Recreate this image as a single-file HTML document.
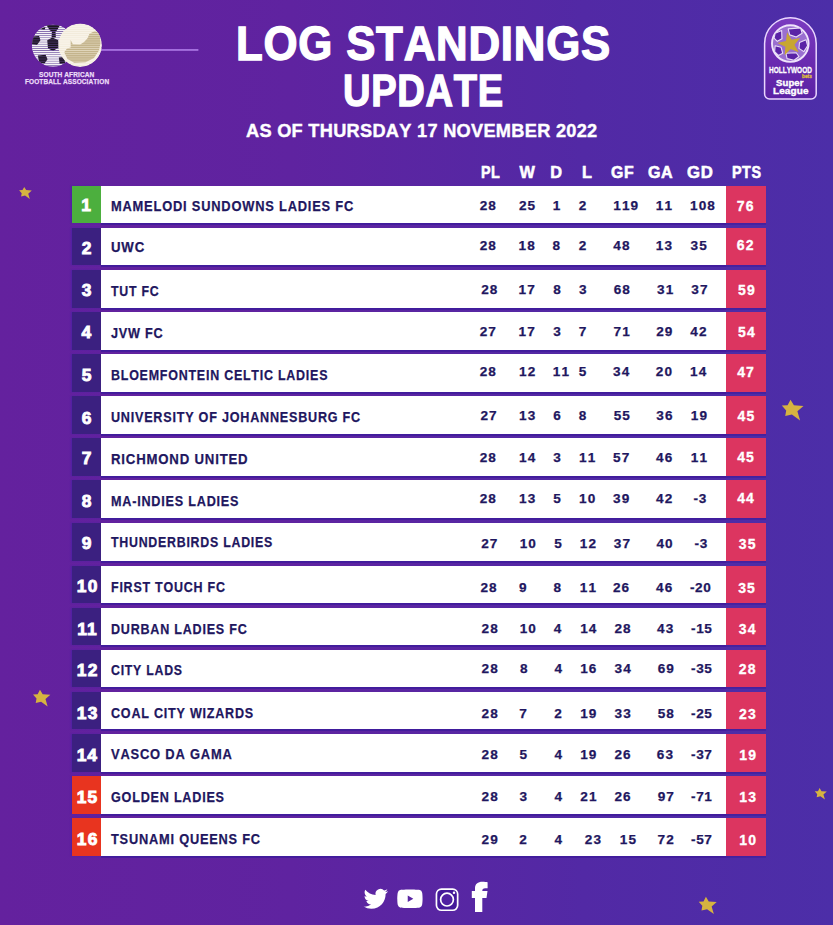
<!DOCTYPE html>
<html><head><meta charset="utf-8"><title>Log Standings Update</title>
<style>
html,body{margin:0;padding:0}
body{width:833px;height:925px;overflow:hidden;position:relative;font-family:"Liberation Sans",sans-serif;font-weight:bold;
background:linear-gradient(90deg,#64219e 0%,#5f23a0 35%,#5229a5 70%,#4c2ea8 100%);}
.x{position:absolute;white-space:nowrap;font-weight:bold;font-kerning:none}
.rk{position:absolute;left:72.4px;width:28.5px;background:#3b2080;box-shadow:-1px 0 1.5px rgba(50,30,170,.45)}
.wh{position:absolute;left:100.9px;width:625.4px;background:#fff;box-shadow:0 1.8px 0 #401c9c}
.pt{position:absolute;left:726.1px;width:39.6px;background:#dc3560;box-shadow:0 1.8px 0 rgba(64,28,156,.7)}
</style></head><body>

<svg class="x" style="left:0;top:0" width="833" height="925" viewBox="0 0 833 925">
<defs>
<pattern id="st" width="4" height="2.12" patternUnits="userSpaceOnUse"><rect width="4" height="0.72" y="1.4" fill="#6a4c9c" fill-opacity="0.85"/></pattern>
<pattern id="st2" width="4" height="2.12" patternUnits="userSpaceOnUse"><rect width="4" height="0.6" y="1.5" fill="#efe6d2" fill-opacity="0.8"/></pattern>
<clipPath id="cball"><circle cx="53" cy="45.6" r="21.2"/></clipPath>
<clipPath id="cmap"><circle cx="80.1" cy="45.2" r="21.8"/></clipPath>
<linearGradient id="bg1" x1="0" y1="0" x2="0" y2="1"><stop offset="0" stop-color="#7a3cc0"/><stop offset="0.55" stop-color="#6a2ab0"/><stop offset="1" stop-color="#5a22a4"/></linearGradient>
</defs>
<polygon points="24.20,186.89 26.19,190.11 31.80,190.58 28.23,193.65 29.81,199.00 25.02,195.61 21.10,196.49 21.68,193.27 19.11,190.28 22.50,190.11" fill="#d6b340"/>
<polygon points="790.50,399.70 793.90,405.20 803.50,406.00 797.40,411.25 800.10,420.40 791.90,414.60 785.20,416.10 786.20,410.60 781.80,405.50 787.60,405.20" fill="#d6b340"/>
<polygon points="39.96,689.82 42.68,694.22 50.36,694.86 45.48,699.06 47.64,706.38 41.08,701.74 35.72,702.94 36.52,698.54 33.00,694.46 37.64,694.22" fill="#d6b340"/>
<polygon points="819.60,788.09 821.49,791.15 826.82,791.59 823.43,794.50 824.93,799.58 820.38,796.36 816.66,797.20 817.21,794.14 814.77,791.31 817.99,791.15" fill="#d6b340"/>
<polygon points="705.91,896.82 708.73,901.38 716.70,902.05 711.63,906.40 713.87,914.00 707.07,909.18 701.51,910.43 702.34,905.86 698.68,901.63 703.50,901.38" fill="#d6b340"/>
<rect x="100" y="49.2" width="98.4" height="1.5" fill="#b583ee"/>
<g clip-path="url(#cball)"><circle cx="53" cy="45.6" r="21.2" fill="#f6f4f7"/><g fill="#1b1420">
<polygon points="46.15,24.86 60.19,24.86 56.95,30.59 55.55,31.13 55.87,37.61 51.55,37.61 51.87,31.13 49.93,30.59" fill="#1b1420"/>
<polygon points="31.78,36.53 39.13,35.99 40.42,40.31 36.96,44.95 31.78,44.31" fill="#1b1420"/>
<polygon points="47.23,40.31 52.31,37.61 58.03,39.98 58.79,47.33 53.17,51.11 47.98,48.41" fill="#1b1420"/>
<polygon points="37.83,55.43 45.61,54.68 47.55,59.22 44.53,63.54 39.13,62.46" fill="#1b1420"/>
<polygon points="58.79,57.59 64.51,57.05 65.05,63.54 59.65,64.08" fill="#1b1420"/>
<polygon points="40.21,28.96 45.61,26.80 44.53,30.04" fill="#1b1420"/>
</g><rect x="30" y="22" width="50" height="48" fill="url(#st)"/></g>
<g clip-path="url(#cmap)"><circle cx="80.1" cy="45.2" r="21.8" fill="#f8f3e8"/>
<polygon points="70.67,39.98 72.83,44.31 80.18,44.52 84.07,41.93 87.53,38.15 89.47,33.83 94.76,30.91 99.63,33.29 100.49,43.01 98.98,50.57 94.01,57.92 85.58,62.24 74.24,62.67 67.43,59.00 64.19,52.19 67.00,48.41 70.67,47.55" fill="#c4b48c"/>
<rect x="56" y="22" width="50" height="48" fill="url(#st2)"/></g>
<path d="M764.6 43.5 a25.8 25.8 0 0 1 51.6 0 V94 a5 5 0 0 1 -5 5 H769.6 a5 5 0 0 1 -5 -5 Z" fill="url(#bg1)" stroke="#ead6ff" stroke-width="1.5"/>
<circle cx="790.3" cy="43.6" r="18.3" fill="#9a6fd0" stroke="#efe4fb" stroke-width="1.9"/>
<polygon points="788.14,28.92 800.57,27.84 802.19,33.24 796.24,37.03 789.76,34.86" fill="#5a23a6" stroke="#e9ddf7" stroke-width="1.1" stroke-linejoin="round"/>
<polygon points="775.16,33.24 781.65,30.54 781.97,38.65 777.32,41.35 774.08,38.11" fill="#5a23a6" stroke="#e9ddf7" stroke-width="1.1" stroke-linejoin="round"/>
<polygon points="799.49,42.43 805.97,39.73 807.59,45.68 803.81,51.62 798.95,48.38" fill="#5a23a6" stroke="#e9ddf7" stroke-width="1.1" stroke-linejoin="round"/>
<polygon points="775.16,45.68 781.11,47.30 782.73,53.24 778.41,55.41 774.62,51.62" fill="#5a23a6" stroke="#e9ddf7" stroke-width="1.1" stroke-linejoin="round"/>
<polygon points="785.97,53.24 796.24,52.70 798.95,56.49 794.08,60.27 787.05,58.65" fill="#5a23a6" stroke="#e9ddf7" stroke-width="1.1" stroke-linejoin="round"/>
<polygon points="787.06,32.27 791.58,39.74 800.17,38.10 794.45,44.71 798.67,52.36 790.61,48.97 784.64,55.35 785.37,46.64 777.47,42.92 785.97,40.93" fill="#c8a632"/>
<g fill="#fff">
<path transform="translate(363.6,886.6) scale(1.02,1.023)" d="M23.953 4.57a10 10 0 01-2.825.775 4.958 4.958 0 002.163-2.723c-.951.555-2.005.959-3.127 1.184a4.92 4.92 0 00-8.384 4.482C7.69 8.095 4.067 6.13 1.64 3.162a4.822 4.822 0 00-.666 2.475c0 1.71.87 3.213 2.188 4.096a4.904 4.904 0 01-2.228-.616v.06a4.923 4.923 0 003.946 4.827 4.996 4.996 0 01-2.212.085 4.936 4.936 0 004.604 3.417 9.867 9.867 0 01-6.102 2.105c-.39 0-.779-.023-1.17-.067a13.995 13.995 0 007.557 2.209c9.053 0 13.998-7.496 13.998-13.985 0-.21 0-.42-.015-.63A9.935 9.935 0 0024 4.59z"/>
<path transform="translate(397.3,885.62) scale(1.054,1.094)" d="M23.498 6.186a3.016 3.016 0 0 0-2.122-2.136C19.505 3.545 12 3.545 12 3.545s-7.505 0-9.377.505A3.017 3.017 0 0 0 .502 6.186C0 8.07 0 12 0 12s0 3.93.502 5.814a3.016 3.016 0 0 0 2.122 2.136c1.871.505 9.376.505 9.376.505s7.505 0 9.377-.505a3.015 3.015 0 0 0 2.122-2.136C24 15.93 24 12 24 12s0-3.93-.502-5.814zM9.9 14.9V9.1L15.2 12z" fill-rule="evenodd"/>
</g>
<g stroke="#fff" stroke-width="1.7"><rect x="436.45" y="889.05" width="21.2" height="21.2" rx="5" fill="#44199a"/><circle cx="447" cy="899.6" r="6.4" fill="#5021a2"/></g><circle cx="454" cy="892.7" r="1.25" fill="#fff"/>
<path fill="#fff" d="M475 912 V898.1 H471.8 V890.9 H475 V888.3 C475 884 477.8 881.8 482.4 881.8 C484.4 881.8 486.4 882 487.6 882.25 V888.3 H485.2 C483.1 888.3 482.3 889.1 482.3 890.9 H487.5 L486.5 898.1 H482.3 V912 Z"/>
</svg>
<div class="x" style="left:236.42px;top:20.00px;font-size:47.2px;line-height:47.2px;letter-spacing:0.800px;color:#fff;-webkit-text-stroke:1.3px #fff;transform:scaleX(0.9290);transform-origin:0 0;">LOG STANDINGS</div>
<div class="x" style="left:343.16px;top:69.00px;font-size:44.6px;line-height:44.6px;letter-spacing:0.800px;color:#fff;-webkit-text-stroke:1.3px #fff;transform:scaleX(0.8544);transform-origin:0 0;">UPDATE</div>
<div class="x" style="left:246.15px;top:122.00px;font-size:18.9px;line-height:18.9px;letter-spacing:0.300px;color:#fff;-webkit-text-stroke:0.4px #fff;transform:scaleX(0.9626);transform-origin:0 0;">AS OF THURSDAY 17 NOVEMBER 2022</div>
<div class="x" style="left:39.14px;top:72.00px;font-size:6.9px;line-height:6.9px;letter-spacing:0.100px;color:#ecdcf8;-webkit-text-stroke:0.25px #ecdcf8;transform:scaleX(0.9497);transform-origin:0 0;">SOUTH AFRICAN</div>
<div class="x" style="left:24.69px;top:79.00px;font-size:6.9px;line-height:6.9px;letter-spacing:0.100px;color:#ecdcf8;-webkit-text-stroke:0.25px #ecdcf8;transform:scaleX(0.9432);transform-origin:0 0;">FOOTBALL ASSOCIATION</div>
<div class="x" style="left:769.02px;top:65.00px;font-size:9.6px;line-height:9.6px;letter-spacing:0.000px;color:#fff;-webkit-text-stroke:0.3px #fff;transform:scaleX(0.6761);transform-origin:0 0;">HOLLYWOOD</div>
<div class="x" style="left:802.04px;top:75.00px;font-size:4.6px;line-height:4.6px;letter-spacing:0.000px;color:#d9b740;-webkit-text-stroke:0.3px #d9b740;transform:scaleX(1.0372);transform-origin:0 0;">bets</div>
<div class="x" style="left:776.20px;top:79.00px;font-size:8.7px;line-height:8.7px;letter-spacing:0.100px;color:#fff;-webkit-text-stroke:0.35px #fff;transform:scaleX(1.0963);transform-origin:0 0;">Super</div>
<div class="x" style="left:772.61px;top:87.00px;font-size:8.7px;line-height:8.7px;letter-spacing:0.100px;color:#fff;-webkit-text-stroke:0.35px #fff;transform:scaleX(1.1486);transform-origin:0 0;">League</div>
<div class="x" style="left:480.82px;top:164.00px;font-size:16.3px;line-height:16.3px;letter-spacing:0.600px;color:#fff;-webkit-text-stroke:0.55px #fff;transform:scaleX(0.8797);transform-origin:0 0;">PL</div>
<div class="x" style="left:519.56px;top:164.00px;font-size:16.3px;line-height:16.3px;letter-spacing:0.600px;color:#fff;-webkit-text-stroke:0.55px #fff;">W</div>
<div class="x" style="left:550.18px;top:164.00px;font-size:16.3px;line-height:16.3px;letter-spacing:0.600px;color:#fff;-webkit-text-stroke:0.55px #fff;">D</div>
<div class="x" style="left:581.88px;top:164.00px;font-size:16.3px;line-height:16.3px;letter-spacing:0.600px;color:#fff;-webkit-text-stroke:0.55px #fff;">L</div>
<div class="x" style="left:610.83px;top:164.00px;font-size:16.3px;line-height:16.3px;letter-spacing:0.600px;color:#fff;-webkit-text-stroke:0.55px #fff;transform:scaleX(0.9718);transform-origin:0 0;">GF</div>
<div class="x" style="left:647.81px;top:164.00px;font-size:16.3px;line-height:16.3px;letter-spacing:0.600px;color:#fff;-webkit-text-stroke:0.55px #fff;transform:scaleX(0.9874);transform-origin:0 0;">GA</div>
<div class="x" style="left:686.69px;top:164.00px;font-size:16.3px;line-height:16.3px;letter-spacing:0.600px;color:#fff;-webkit-text-stroke:0.55px #fff;transform:scaleX(1.0276);transform-origin:0 0;">GD</div>
<div class="x" style="left:731.51px;top:164.00px;font-size:16.3px;line-height:16.3px;letter-spacing:0.600px;color:#fff;-webkit-text-stroke:0.55px #fff;transform:scaleX(0.8806);transform-origin:0 0;">PTS</div>
<div class="rk" style="top:185.90px;height:37.3px;background:#4caf3e"></div>
<div class="wh" style="top:185.90px;height:37.3px"></div>
<div class="pt" style="top:185.90px;height:37.3px"></div>
<div class="x" style="left:81.36px;top:197.00px;font-size:17.4px;line-height:17.4px;letter-spacing:0.000px;color:#fff;-webkit-text-stroke:0.9px #fff;">1</div>
<div class="x" style="left:110.66px;top:199.00px;font-size:14.6px;line-height:14.6px;letter-spacing:0.900px;color:#1f1760;-webkit-text-stroke:0.25px #1f1760;transform:scaleX(0.8818);transform-origin:0 0;">MAMELODI SUNDOWNS LADIES FC</div>
<div class="x" style="left:479.65px;top:199.00px;font-size:13.6px;line-height:13.6px;letter-spacing:1.100px;color:#1f1760;-webkit-text-stroke:0.25px #1f1760;">28</div>
<div class="x" style="left:518.95px;top:199.00px;font-size:13.6px;line-height:13.6px;letter-spacing:1.100px;color:#1f1760;-webkit-text-stroke:0.25px #1f1760;">25</div>
<div class="x" style="left:552.77px;top:199.00px;font-size:13.6px;line-height:13.6px;letter-spacing:1.100px;color:#1f1760;-webkit-text-stroke:0.25px #1f1760;">1</div>
<div class="x" style="left:578.75px;top:199.00px;font-size:13.6px;line-height:13.6px;letter-spacing:1.100px;color:#1f1760;-webkit-text-stroke:0.25px #1f1760;">2</div>
<div class="x" style="left:613.27px;top:199.00px;font-size:13.6px;line-height:13.6px;letter-spacing:1.100px;color:#1f1760;-webkit-text-stroke:0.25px #1f1760;">119</div>
<div class="x" style="left:655.77px;top:199.00px;font-size:13.6px;line-height:13.6px;letter-spacing:1.100px;color:#1f1760;-webkit-text-stroke:0.25px #1f1760;">11</div>
<div class="x" style="left:689.97px;top:199.00px;font-size:13.6px;line-height:13.6px;letter-spacing:1.100px;color:#1f1760;-webkit-text-stroke:0.25px #1f1760;">108</div>
<div class="x" style="left:736.75px;top:199.00px;font-size:14.0px;line-height:14.0px;letter-spacing:1.200px;color:#fff;-webkit-text-stroke:0.3px #fff;">76</div>
<div class="rk" style="top:227.60px;height:37.8px;background:#3b2080"></div>
<div class="wh" style="top:227.60px;height:37.8px"></div>
<div class="pt" style="top:227.60px;height:37.8px"></div>
<div class="x" style="left:81.71px;top:240.00px;font-size:17.4px;line-height:17.4px;letter-spacing:0.000px;color:#fff;-webkit-text-stroke:0.9px #fff;">2</div>
<div class="x" style="left:110.73px;top:240.00px;font-size:14.6px;line-height:14.6px;letter-spacing:0.900px;color:#1f1760;-webkit-text-stroke:0.25px #1f1760;transform:scaleX(0.9056);transform-origin:0 0;">UWC</div>
<div class="x" style="left:479.65px;top:239.00px;font-size:13.6px;line-height:13.6px;letter-spacing:1.100px;color:#1f1760;-webkit-text-stroke:0.25px #1f1760;">28</div>
<div class="x" style="left:518.57px;top:239.00px;font-size:13.6px;line-height:13.6px;letter-spacing:1.100px;color:#1f1760;-webkit-text-stroke:0.25px #1f1760;">18</div>
<div class="x" style="left:552.49px;top:239.00px;font-size:13.6px;line-height:13.6px;letter-spacing:1.100px;color:#1f1760;-webkit-text-stroke:0.25px #1f1760;">8</div>
<div class="x" style="left:578.75px;top:239.00px;font-size:13.6px;line-height:13.6px;letter-spacing:1.100px;color:#1f1760;-webkit-text-stroke:0.25px #1f1760;">2</div>
<div class="x" style="left:613.22px;top:239.00px;font-size:13.6px;line-height:13.6px;letter-spacing:1.100px;color:#1f1760;-webkit-text-stroke:0.25px #1f1760;">48</div>
<div class="x" style="left:655.77px;top:239.00px;font-size:13.6px;line-height:13.6px;letter-spacing:1.100px;color:#1f1760;-webkit-text-stroke:0.25px #1f1760;">13</div>
<div class="x" style="left:690.51px;top:239.00px;font-size:13.6px;line-height:13.6px;letter-spacing:1.100px;color:#1f1760;-webkit-text-stroke:0.25px #1f1760;">35</div>
<div class="x" style="left:736.84px;top:238.00px;font-size:14.0px;line-height:14.0px;letter-spacing:1.200px;color:#fff;-webkit-text-stroke:0.3px #fff;">62</div>
<div class="rk" style="top:269.70px;height:37.9px;background:#3b2080"></div>
<div class="wh" style="top:269.70px;height:37.9px"></div>
<div class="pt" style="top:269.70px;height:37.9px"></div>
<div class="x" style="left:81.78px;top:282.00px;font-size:17.4px;line-height:17.4px;letter-spacing:0.000px;color:#fff;-webkit-text-stroke:0.9px #fff;">3</div>
<div class="x" style="left:111.39px;top:284.00px;font-size:14.6px;line-height:14.6px;letter-spacing:0.900px;color:#1f1760;-webkit-text-stroke:0.25px #1f1760;transform:scaleX(0.8444);transform-origin:0 0;">TUT FC</div>
<div class="x" style="left:481.15px;top:283.00px;font-size:13.6px;line-height:13.6px;letter-spacing:1.100px;color:#1f1760;-webkit-text-stroke:0.25px #1f1760;">28</div>
<div class="x" style="left:518.57px;top:283.00px;font-size:13.6px;line-height:13.6px;letter-spacing:1.100px;color:#1f1760;-webkit-text-stroke:0.25px #1f1760;">17</div>
<div class="x" style="left:553.19px;top:283.00px;font-size:13.6px;line-height:13.6px;letter-spacing:1.100px;color:#1f1760;-webkit-text-stroke:0.25px #1f1760;">8</div>
<div class="x" style="left:578.91px;top:283.00px;font-size:13.6px;line-height:13.6px;letter-spacing:1.100px;color:#1f1760;-webkit-text-stroke:0.25px #1f1760;">3</div>
<div class="x" style="left:613.63px;top:283.00px;font-size:13.6px;line-height:13.6px;letter-spacing:1.100px;color:#1f1760;-webkit-text-stroke:0.25px #1f1760;">68</div>
<div class="x" style="left:657.01px;top:283.00px;font-size:13.6px;line-height:13.6px;letter-spacing:1.100px;color:#1f1760;-webkit-text-stroke:0.25px #1f1760;">31</div>
<div class="x" style="left:691.31px;top:283.00px;font-size:13.6px;line-height:13.6px;letter-spacing:1.100px;color:#1f1760;-webkit-text-stroke:0.25px #1f1760;">37</div>
<div class="x" style="left:738.02px;top:283.00px;font-size:14.0px;line-height:14.0px;letter-spacing:1.200px;color:#fff;-webkit-text-stroke:0.3px #fff;">59</div>
<div class="rk" style="top:311.70px;height:38.0px;background:#3b2080"></div>
<div class="wh" style="top:311.70px;height:38.0px"></div>
<div class="pt" style="top:311.70px;height:38.0px"></div>
<div class="x" style="left:81.58px;top:324.00px;font-size:17.4px;line-height:17.4px;letter-spacing:0.000px;color:#fff;-webkit-text-stroke:0.9px #fff;">4</div>
<div class="x" style="left:111.33px;top:326.00px;font-size:14.6px;line-height:14.6px;letter-spacing:0.900px;color:#1f1760;-webkit-text-stroke:0.25px #1f1760;transform:scaleX(0.8681);transform-origin:0 0;">JVW FC</div>
<div class="x" style="left:479.65px;top:325.00px;font-size:13.6px;line-height:13.6px;letter-spacing:1.100px;color:#1f1760;-webkit-text-stroke:0.25px #1f1760;">27</div>
<div class="x" style="left:518.57px;top:325.00px;font-size:13.6px;line-height:13.6px;letter-spacing:1.100px;color:#1f1760;-webkit-text-stroke:0.25px #1f1760;">17</div>
<div class="x" style="left:553.31px;top:325.00px;font-size:13.6px;line-height:13.6px;letter-spacing:1.100px;color:#1f1760;-webkit-text-stroke:0.25px #1f1760;">3</div>
<div class="x" style="left:578.64px;top:325.00px;font-size:13.6px;line-height:13.6px;letter-spacing:1.100px;color:#1f1760;-webkit-text-stroke:0.25px #1f1760;">7</div>
<div class="x" style="left:613.54px;top:325.00px;font-size:13.6px;line-height:13.6px;letter-spacing:1.100px;color:#1f1760;-webkit-text-stroke:0.25px #1f1760;">71</div>
<div class="x" style="left:656.15px;top:325.00px;font-size:13.6px;line-height:13.6px;letter-spacing:1.100px;color:#1f1760;-webkit-text-stroke:0.25px #1f1760;">29</div>
<div class="x" style="left:690.32px;top:325.00px;font-size:13.6px;line-height:13.6px;letter-spacing:1.100px;color:#1f1760;-webkit-text-stroke:0.25px #1f1760;">42</div>
<div class="x" style="left:738.02px;top:325.00px;font-size:14.0px;line-height:14.0px;letter-spacing:1.200px;color:#fff;-webkit-text-stroke:0.3px #fff;">54</div>
<div class="rk" style="top:353.70px;height:38.2px;background:#3b2080"></div>
<div class="wh" style="top:353.70px;height:38.2px"></div>
<div class="pt" style="top:353.70px;height:38.2px"></div>
<div class="x" style="left:81.64px;top:367.00px;font-size:17.4px;line-height:17.4px;letter-spacing:0.000px;color:#fff;-webkit-text-stroke:0.9px #fff;">5</div>
<div class="x" style="left:110.69px;top:368.00px;font-size:14.6px;line-height:14.6px;letter-spacing:0.900px;color:#1f1760;-webkit-text-stroke:0.25px #1f1760;transform:scaleX(0.8538);transform-origin:0 0;">BLOEMFONTEIN CELTIC LADIES</div>
<div class="x" style="left:479.65px;top:365.00px;font-size:13.6px;line-height:13.6px;letter-spacing:1.100px;color:#1f1760;-webkit-text-stroke:0.25px #1f1760;">28</div>
<div class="x" style="left:518.97px;top:365.00px;font-size:13.6px;line-height:13.6px;letter-spacing:1.100px;color:#1f1760;-webkit-text-stroke:0.25px #1f1760;">12</div>
<div class="x" style="left:552.77px;top:365.00px;font-size:13.6px;line-height:13.6px;letter-spacing:1.100px;color:#1f1760;-webkit-text-stroke:0.25px #1f1760;">11</div>
<div class="x" style="left:578.81px;top:365.00px;font-size:13.6px;line-height:13.6px;letter-spacing:1.100px;color:#1f1760;-webkit-text-stroke:0.25px #1f1760;">5</div>
<div class="x" style="left:613.11px;top:365.00px;font-size:13.6px;line-height:13.6px;letter-spacing:1.100px;color:#1f1760;-webkit-text-stroke:0.25px #1f1760;">34</div>
<div class="x" style="left:655.85px;top:365.00px;font-size:13.6px;line-height:13.6px;letter-spacing:1.100px;color:#1f1760;-webkit-text-stroke:0.25px #1f1760;">20</div>
<div class="x" style="left:689.97px;top:365.00px;font-size:13.6px;line-height:13.6px;letter-spacing:1.100px;color:#1f1760;-webkit-text-stroke:0.25px #1f1760;">14</div>
<div class="x" style="left:737.14px;top:365.00px;font-size:14.0px;line-height:14.0px;letter-spacing:1.200px;color:#fff;-webkit-text-stroke:0.3px #fff;">47</div>
<div class="rk" style="top:396.00px;height:38.0px;background:#3b2080"></div>
<div class="wh" style="top:396.00px;height:38.0px"></div>
<div class="pt" style="top:396.00px;height:38.0px"></div>
<div class="x" style="left:81.66px;top:410.00px;font-size:17.4px;line-height:17.4px;letter-spacing:0.000px;color:#fff;-webkit-text-stroke:0.9px #fff;">6</div>
<div class="x" style="left:110.77px;top:410.00px;font-size:14.6px;line-height:14.6px;letter-spacing:0.900px;color:#1f1760;-webkit-text-stroke:0.25px #1f1760;transform:scaleX(0.8630);transform-origin:0 0;">UNIVERSITY OF JOHANNESBURG FC</div>
<div class="x" style="left:480.45px;top:409.00px;font-size:13.6px;line-height:13.6px;letter-spacing:1.100px;color:#1f1760;-webkit-text-stroke:0.25px #1f1760;">27</div>
<div class="x" style="left:518.97px;top:409.00px;font-size:13.6px;line-height:13.6px;letter-spacing:1.100px;color:#1f1760;-webkit-text-stroke:0.25px #1f1760;">13</div>
<div class="x" style="left:553.13px;top:409.00px;font-size:13.6px;line-height:13.6px;letter-spacing:1.100px;color:#1f1760;-webkit-text-stroke:0.25px #1f1760;">6</div>
<div class="x" style="left:578.79px;top:409.00px;font-size:13.6px;line-height:13.6px;letter-spacing:1.100px;color:#1f1760;-webkit-text-stroke:0.25px #1f1760;">8</div>
<div class="x" style="left:613.71px;top:409.00px;font-size:13.6px;line-height:13.6px;letter-spacing:1.100px;color:#1f1760;-webkit-text-stroke:0.25px #1f1760;">55</div>
<div class="x" style="left:656.31px;top:409.00px;font-size:13.6px;line-height:13.6px;letter-spacing:1.100px;color:#1f1760;-webkit-text-stroke:0.25px #1f1760;">36</div>
<div class="x" style="left:690.77px;top:409.00px;font-size:13.6px;line-height:13.6px;letter-spacing:1.100px;color:#1f1760;-webkit-text-stroke:0.25px #1f1760;">19</div>
<div class="x" style="left:737.54px;top:409.00px;font-size:14.0px;line-height:14.0px;letter-spacing:1.200px;color:#fff;-webkit-text-stroke:0.3px #fff;">45</div>
<div class="rk" style="top:438.20px;height:37.6px;background:#3b2080"></div>
<div class="wh" style="top:438.20px;height:37.6px"></div>
<div class="pt" style="top:438.20px;height:37.6px"></div>
<div class="x" style="left:81.67px;top:450.00px;font-size:17.4px;line-height:17.4px;letter-spacing:0.000px;color:#fff;-webkit-text-stroke:0.9px #fff;">7</div>
<div class="x" style="left:110.64px;top:452.00px;font-size:14.6px;line-height:14.6px;letter-spacing:0.900px;color:#1f1760;-webkit-text-stroke:0.25px #1f1760;transform:scaleX(0.9035);transform-origin:0 0;">RICHMOND UNITED</div>
<div class="x" style="left:479.65px;top:451.00px;font-size:13.6px;line-height:13.6px;letter-spacing:1.100px;color:#1f1760;-webkit-text-stroke:0.25px #1f1760;">28</div>
<div class="x" style="left:518.97px;top:451.00px;font-size:13.6px;line-height:13.6px;letter-spacing:1.100px;color:#1f1760;-webkit-text-stroke:0.25px #1f1760;">14</div>
<div class="x" style="left:553.31px;top:451.00px;font-size:13.6px;line-height:13.6px;letter-spacing:1.100px;color:#1f1760;-webkit-text-stroke:0.25px #1f1760;">3</div>
<div class="x" style="left:579.07px;top:451.00px;font-size:13.6px;line-height:13.6px;letter-spacing:1.100px;color:#1f1760;-webkit-text-stroke:0.25px #1f1760;">11</div>
<div class="x" style="left:613.01px;top:451.00px;font-size:13.6px;line-height:13.6px;letter-spacing:1.100px;color:#1f1760;-webkit-text-stroke:0.25px #1f1760;">57</div>
<div class="x" style="left:656.12px;top:451.00px;font-size:13.6px;line-height:13.6px;letter-spacing:1.100px;color:#1f1760;-webkit-text-stroke:0.25px #1f1760;">46</div>
<div class="x" style="left:690.77px;top:451.00px;font-size:13.6px;line-height:13.6px;letter-spacing:1.100px;color:#1f1760;-webkit-text-stroke:0.25px #1f1760;">11</div>
<div class="x" style="left:737.14px;top:450.00px;font-size:14.0px;line-height:14.0px;letter-spacing:1.200px;color:#fff;-webkit-text-stroke:0.3px #fff;">45</div>
<div class="rk" style="top:480.10px;height:38.2px;background:#3b2080"></div>
<div class="wh" style="top:480.10px;height:38.2px"></div>
<div class="pt" style="top:480.10px;height:38.2px"></div>
<div class="x" style="left:81.65px;top:493.00px;font-size:17.4px;line-height:17.4px;letter-spacing:0.000px;color:#fff;-webkit-text-stroke:0.9px #fff;">8</div>
<div class="x" style="left:110.68px;top:494.00px;font-size:14.6px;line-height:14.6px;letter-spacing:0.900px;color:#1f1760;-webkit-text-stroke:0.25px #1f1760;transform:scaleX(0.8653);transform-origin:0 0;">MA-INDIES LADIES</div>
<div class="x" style="left:479.65px;top:492.00px;font-size:13.6px;line-height:13.6px;letter-spacing:1.100px;color:#1f1760;-webkit-text-stroke:0.25px #1f1760;">28</div>
<div class="x" style="left:518.97px;top:492.00px;font-size:13.6px;line-height:13.6px;letter-spacing:1.100px;color:#1f1760;-webkit-text-stroke:0.25px #1f1760;">13</div>
<div class="x" style="left:553.21px;top:492.00px;font-size:13.6px;line-height:13.6px;letter-spacing:1.100px;color:#1f1760;-webkit-text-stroke:0.25px #1f1760;">5</div>
<div class="x" style="left:579.07px;top:492.00px;font-size:13.6px;line-height:13.6px;letter-spacing:1.100px;color:#1f1760;-webkit-text-stroke:0.25px #1f1760;">10</div>
<div class="x" style="left:613.11px;top:492.00px;font-size:13.6px;line-height:13.6px;letter-spacing:1.100px;color:#1f1760;-webkit-text-stroke:0.25px #1f1760;">39</div>
<div class="x" style="left:656.12px;top:492.00px;font-size:13.6px;line-height:13.6px;letter-spacing:1.100px;color:#1f1760;-webkit-text-stroke:0.25px #1f1760;">42</div>
<div class="x" style="left:693.59px;top:492.00px;font-size:13.6px;line-height:13.6px;letter-spacing:0.600px;color:#1f1760;-webkit-text-stroke:0.25px #1f1760;">-3</div>
<div class="x" style="left:737.14px;top:491.00px;font-size:14.0px;line-height:14.0px;letter-spacing:1.200px;color:#fff;-webkit-text-stroke:0.3px #fff;">44</div>
<div class="rk" style="top:523.20px;height:37.6px;background:#3b2080"></div>
<div class="wh" style="top:523.20px;height:37.6px"></div>
<div class="pt" style="top:523.20px;height:37.6px"></div>
<div class="x" style="left:81.68px;top:535.00px;font-size:17.4px;line-height:17.4px;letter-spacing:0.000px;color:#fff;-webkit-text-stroke:0.9px #fff;">9</div>
<div class="x" style="left:111.39px;top:535.00px;font-size:14.6px;line-height:14.6px;letter-spacing:0.900px;color:#1f1760;-webkit-text-stroke:0.25px #1f1760;transform:scaleX(0.8467);transform-origin:0 0;">THUNDERBIRDS LADIES</div>
<div class="x" style="left:481.15px;top:537.00px;font-size:13.6px;line-height:13.6px;letter-spacing:1.100px;color:#1f1760;-webkit-text-stroke:0.25px #1f1760;">27</div>
<div class="x" style="left:519.67px;top:537.00px;font-size:13.6px;line-height:13.6px;letter-spacing:1.100px;color:#1f1760;-webkit-text-stroke:0.25px #1f1760;">10</div>
<div class="x" style="left:554.31px;top:537.00px;font-size:13.6px;line-height:13.6px;letter-spacing:1.100px;color:#1f1760;-webkit-text-stroke:0.25px #1f1760;">5</div>
<div class="x" style="left:579.87px;top:537.00px;font-size:13.6px;line-height:13.6px;letter-spacing:1.100px;color:#1f1760;-webkit-text-stroke:0.25px #1f1760;">12</div>
<div class="x" style="left:613.81px;top:537.00px;font-size:13.6px;line-height:13.6px;letter-spacing:1.100px;color:#1f1760;-webkit-text-stroke:0.25px #1f1760;">37</div>
<div class="x" style="left:656.42px;top:537.00px;font-size:13.6px;line-height:13.6px;letter-spacing:1.100px;color:#1f1760;-webkit-text-stroke:0.25px #1f1760;">40</div>
<div class="x" style="left:694.59px;top:537.00px;font-size:13.6px;line-height:13.6px;letter-spacing:0.600px;color:#1f1760;-webkit-text-stroke:0.25px #1f1760;">-3</div>
<div class="x" style="left:738.83px;top:537.00px;font-size:14.0px;line-height:14.0px;letter-spacing:1.200px;color:#fff;-webkit-text-stroke:0.3px #fff;">35</div>
<div class="rk" style="top:565.70px;height:37.6px;background:#3b2080"></div>
<div class="wh" style="top:565.70px;height:37.6px"></div>
<div class="pt" style="top:565.70px;height:37.6px"></div>
<div class="x" style="left:76.85px;top:578.00px;font-size:17.4px;line-height:17.4px;letter-spacing:1.256px;color:#fff;-webkit-text-stroke:0.9px #fff;">10</div>
<div class="x" style="left:110.69px;top:580.00px;font-size:14.6px;line-height:14.6px;letter-spacing:0.900px;color:#1f1760;-webkit-text-stroke:0.25px #1f1760;transform:scaleX(0.8543);transform-origin:0 0;">FIRST TOUCH FC</div>
<div class="x" style="left:480.45px;top:581.00px;font-size:13.6px;line-height:13.6px;letter-spacing:1.100px;color:#1f1760;-webkit-text-stroke:0.25px #1f1760;">28</div>
<div class="x" style="left:518.95px;top:581.00px;font-size:13.6px;line-height:13.6px;letter-spacing:1.100px;color:#1f1760;-webkit-text-stroke:0.25px #1f1760;">9</div>
<div class="x" style="left:553.59px;top:581.00px;font-size:13.6px;line-height:13.6px;letter-spacing:1.100px;color:#1f1760;-webkit-text-stroke:0.25px #1f1760;">8</div>
<div class="x" style="left:579.87px;top:581.00px;font-size:13.6px;line-height:13.6px;letter-spacing:1.100px;color:#1f1760;-webkit-text-stroke:0.25px #1f1760;">11</div>
<div class="x" style="left:612.95px;top:581.00px;font-size:13.6px;line-height:13.6px;letter-spacing:1.100px;color:#1f1760;-webkit-text-stroke:0.25px #1f1760;">26</div>
<div class="x" style="left:656.12px;top:581.00px;font-size:13.6px;line-height:13.6px;letter-spacing:1.100px;color:#1f1760;-webkit-text-stroke:0.25px #1f1760;">46</div>
<div class="x" style="left:689.99px;top:581.00px;font-size:13.6px;line-height:13.6px;letter-spacing:0.600px;color:#1f1760;-webkit-text-stroke:0.25px #1f1760;">-20</div>
<div class="x" style="left:738.13px;top:581.00px;font-size:14.0px;line-height:14.0px;letter-spacing:1.200px;color:#fff;-webkit-text-stroke:0.3px #fff;">35</div>
<div class="rk" style="top:607.90px;height:37.2px;background:#3b2080"></div>
<div class="wh" style="top:607.90px;height:37.2px"></div>
<div class="pt" style="top:607.90px;height:37.2px"></div>
<div class="x" style="left:77.15px;top:621.00px;font-size:17.4px;line-height:17.4px;letter-spacing:0.126px;color:#fff;-webkit-text-stroke:0.9px #fff;">11</div>
<div class="x" style="left:110.69px;top:622.00px;font-size:14.6px;line-height:14.6px;letter-spacing:0.900px;color:#1f1760;-webkit-text-stroke:0.25px #1f1760;transform:scaleX(0.8598);transform-origin:0 0;">DURBAN LADIES FC</div>
<div class="x" style="left:481.55px;top:622.00px;font-size:13.6px;line-height:13.6px;letter-spacing:1.100px;color:#1f1760;-webkit-text-stroke:0.25px #1f1760;">28</div>
<div class="x" style="left:519.67px;top:622.00px;font-size:13.6px;line-height:13.6px;letter-spacing:1.100px;color:#1f1760;-webkit-text-stroke:0.25px #1f1760;">10</div>
<div class="x" style="left:553.82px;top:622.00px;font-size:13.6px;line-height:13.6px;letter-spacing:1.100px;color:#1f1760;-webkit-text-stroke:0.25px #1f1760;">4</div>
<div class="x" style="left:580.17px;top:622.00px;font-size:13.6px;line-height:13.6px;letter-spacing:1.100px;color:#1f1760;-webkit-text-stroke:0.25px #1f1760;">14</div>
<div class="x" style="left:614.45px;top:622.00px;font-size:13.6px;line-height:13.6px;letter-spacing:1.100px;color:#1f1760;-webkit-text-stroke:0.25px #1f1760;">28</div>
<div class="x" style="left:657.12px;top:622.00px;font-size:13.6px;line-height:13.6px;letter-spacing:1.100px;color:#1f1760;-webkit-text-stroke:0.25px #1f1760;">43</div>
<div class="x" style="left:691.09px;top:622.00px;font-size:13.6px;line-height:13.6px;letter-spacing:0.600px;color:#1f1760;-webkit-text-stroke:0.25px #1f1760;">-15</div>
<div class="x" style="left:738.83px;top:622.00px;font-size:14.0px;line-height:14.0px;letter-spacing:1.200px;color:#fff;-webkit-text-stroke:0.3px #fff;">34</div>
<div class="rk" style="top:649.90px;height:37.6px;background:#3b2080"></div>
<div class="wh" style="top:649.90px;height:37.6px"></div>
<div class="pt" style="top:649.90px;height:37.6px"></div>
<div class="x" style="left:76.85px;top:662.00px;font-size:17.4px;line-height:17.4px;letter-spacing:1.239px;color:#fff;-webkit-text-stroke:0.9px #fff;">12</div>
<div class="x" style="left:111.02px;top:663.00px;font-size:14.6px;line-height:14.6px;letter-spacing:0.900px;color:#1f1760;-webkit-text-stroke:0.25px #1f1760;transform:scaleX(0.8431);transform-origin:0 0;">CITY LADS</div>
<div class="x" style="left:481.55px;top:662.00px;font-size:13.6px;line-height:13.6px;letter-spacing:1.100px;color:#1f1760;-webkit-text-stroke:0.25px #1f1760;">28</div>
<div class="x" style="left:520.09px;top:662.00px;font-size:13.6px;line-height:13.6px;letter-spacing:1.100px;color:#1f1760;-webkit-text-stroke:0.25px #1f1760;">8</div>
<div class="x" style="left:554.52px;top:662.00px;font-size:13.6px;line-height:13.6px;letter-spacing:1.100px;color:#1f1760;-webkit-text-stroke:0.25px #1f1760;">4</div>
<div class="x" style="left:580.17px;top:662.00px;font-size:13.6px;line-height:13.6px;letter-spacing:1.100px;color:#1f1760;-webkit-text-stroke:0.25px #1f1760;">16</div>
<div class="x" style="left:614.61px;top:662.00px;font-size:13.6px;line-height:13.6px;letter-spacing:1.100px;color:#1f1760;-webkit-text-stroke:0.25px #1f1760;">34</div>
<div class="x" style="left:657.63px;top:662.00px;font-size:13.6px;line-height:13.6px;letter-spacing:1.100px;color:#1f1760;-webkit-text-stroke:0.25px #1f1760;">69</div>
<div class="x" style="left:691.09px;top:662.00px;font-size:13.6px;line-height:13.6px;letter-spacing:0.600px;color:#1f1760;-webkit-text-stroke:0.25px #1f1760;">-35</div>
<div class="x" style="left:738.66px;top:662.00px;font-size:14.0px;line-height:14.0px;letter-spacing:1.200px;color:#fff;-webkit-text-stroke:0.3px #fff;">28</div>
<div class="rk" style="top:692.10px;height:37.4px;background:#3b2080"></div>
<div class="wh" style="top:692.10px;height:37.4px"></div>
<div class="pt" style="top:692.10px;height:37.4px"></div>
<div class="x" style="left:76.85px;top:705.00px;font-size:17.4px;line-height:17.4px;letter-spacing:1.171px;color:#fff;-webkit-text-stroke:0.9px #fff;">13</div>
<div class="x" style="left:111.01px;top:706.00px;font-size:14.6px;line-height:14.6px;letter-spacing:0.900px;color:#1f1760;-webkit-text-stroke:0.25px #1f1760;transform:scaleX(0.8608);transform-origin:0 0;">COAL CITY WIZARDS</div>
<div class="x" style="left:481.55px;top:707.00px;font-size:13.6px;line-height:13.6px;letter-spacing:1.100px;color:#1f1760;-webkit-text-stroke:0.25px #1f1760;">28</div>
<div class="x" style="left:519.24px;top:707.00px;font-size:13.6px;line-height:13.6px;letter-spacing:1.100px;color:#1f1760;-webkit-text-stroke:0.25px #1f1760;">7</div>
<div class="x" style="left:554.25px;top:707.00px;font-size:13.6px;line-height:13.6px;letter-spacing:1.100px;color:#1f1760;-webkit-text-stroke:0.25px #1f1760;">2</div>
<div class="x" style="left:580.17px;top:707.00px;font-size:13.6px;line-height:13.6px;letter-spacing:1.100px;color:#1f1760;-webkit-text-stroke:0.25px #1f1760;">19</div>
<div class="x" style="left:614.61px;top:707.00px;font-size:13.6px;line-height:13.6px;letter-spacing:1.100px;color:#1f1760;-webkit-text-stroke:0.25px #1f1760;">33</div>
<div class="x" style="left:657.71px;top:707.00px;font-size:13.6px;line-height:13.6px;letter-spacing:1.100px;color:#1f1760;-webkit-text-stroke:0.25px #1f1760;">58</div>
<div class="x" style="left:691.09px;top:707.00px;font-size:13.6px;line-height:13.6px;letter-spacing:0.600px;color:#1f1760;-webkit-text-stroke:0.25px #1f1760;">-25</div>
<div class="x" style="left:739.06px;top:707.00px;font-size:14.0px;line-height:14.0px;letter-spacing:1.200px;color:#fff;-webkit-text-stroke:0.3px #fff;">23</div>
<div class="rk" style="top:734.10px;height:37.7px;background:#3b2080"></div>
<div class="wh" style="top:734.10px;height:37.7px"></div>
<div class="pt" style="top:734.10px;height:37.7px"></div>
<div class="x" style="left:76.85px;top:747.00px;font-size:17.4px;line-height:17.4px;letter-spacing:0.635px;color:#fff;-webkit-text-stroke:0.9px #fff;">14</div>
<div class="x" style="left:111.44px;top:747.00px;font-size:14.6px;line-height:14.6px;letter-spacing:0.900px;color:#1f1760;-webkit-text-stroke:0.25px #1f1760;transform:scaleX(0.8854);transform-origin:0 0;">VASCO DA GAMA</div>
<div class="x" style="left:481.55px;top:748.00px;font-size:13.6px;line-height:13.6px;letter-spacing:1.100px;color:#1f1760;-webkit-text-stroke:0.25px #1f1760;">28</div>
<div class="x" style="left:519.41px;top:748.00px;font-size:13.6px;line-height:13.6px;letter-spacing:1.100px;color:#1f1760;-webkit-text-stroke:0.25px #1f1760;">5</div>
<div class="x" style="left:554.52px;top:748.00px;font-size:13.6px;line-height:13.6px;letter-spacing:1.100px;color:#1f1760;-webkit-text-stroke:0.25px #1f1760;">4</div>
<div class="x" style="left:580.17px;top:748.00px;font-size:13.6px;line-height:13.6px;letter-spacing:1.100px;color:#1f1760;-webkit-text-stroke:0.25px #1f1760;">19</div>
<div class="x" style="left:614.45px;top:748.00px;font-size:13.6px;line-height:13.6px;letter-spacing:1.100px;color:#1f1760;-webkit-text-stroke:0.25px #1f1760;">26</div>
<div class="x" style="left:656.83px;top:748.00px;font-size:13.6px;line-height:13.6px;letter-spacing:1.100px;color:#1f1760;-webkit-text-stroke:0.25px #1f1760;">63</div>
<div class="x" style="left:691.09px;top:748.00px;font-size:13.6px;line-height:13.6px;letter-spacing:0.600px;color:#1f1760;-webkit-text-stroke:0.25px #1f1760;">-37</div>
<div class="x" style="left:739.27px;top:748.00px;font-size:14.0px;line-height:14.0px;letter-spacing:1.200px;color:#fff;-webkit-text-stroke:0.3px #fff;">19</div>
<div class="rk" style="top:776.45px;height:37.15px;background:#e8341f"></div>
<div class="wh" style="top:776.45px;height:37.15px"></div>
<div class="pt" style="top:776.45px;height:37.15px"></div>
<div class="x" style="left:76.85px;top:789.00px;font-size:17.4px;line-height:17.4px;letter-spacing:1.026px;color:#fff;-webkit-text-stroke:0.9px #fff;">15</div>
<div class="x" style="left:111.01px;top:790.00px;font-size:14.6px;line-height:14.6px;letter-spacing:0.900px;color:#1f1760;-webkit-text-stroke:0.25px #1f1760;transform:scaleX(0.8640);transform-origin:0 0;">GOLDEN LADIES</div>
<div class="x" style="left:481.55px;top:790.00px;font-size:13.6px;line-height:13.6px;letter-spacing:1.100px;color:#1f1760;-webkit-text-stroke:0.25px #1f1760;">28</div>
<div class="x" style="left:519.51px;top:790.00px;font-size:13.6px;line-height:13.6px;letter-spacing:1.100px;color:#1f1760;-webkit-text-stroke:0.25px #1f1760;">3</div>
<div class="x" style="left:554.52px;top:790.00px;font-size:13.6px;line-height:13.6px;letter-spacing:1.100px;color:#1f1760;-webkit-text-stroke:0.25px #1f1760;">4</div>
<div class="x" style="left:580.25px;top:790.00px;font-size:13.6px;line-height:13.6px;letter-spacing:1.100px;color:#1f1760;-webkit-text-stroke:0.25px #1f1760;">21</div>
<div class="x" style="left:614.45px;top:790.00px;font-size:13.6px;line-height:13.6px;letter-spacing:1.100px;color:#1f1760;-webkit-text-stroke:0.25px #1f1760;">26</div>
<div class="x" style="left:657.65px;top:790.00px;font-size:13.6px;line-height:13.6px;letter-spacing:1.100px;color:#1f1760;-webkit-text-stroke:0.25px #1f1760;">97</div>
<div class="x" style="left:691.09px;top:790.00px;font-size:13.6px;line-height:13.6px;letter-spacing:0.600px;color:#1f1760;-webkit-text-stroke:0.25px #1f1760;">-71</div>
<div class="x" style="left:739.27px;top:790.00px;font-size:14.0px;line-height:14.0px;letter-spacing:1.200px;color:#fff;-webkit-text-stroke:0.3px #fff;">13</div>
<div class="rk" style="top:818.20px;height:37.4px;background:#e8341f"></div>
<div class="wh" style="top:818.20px;height:37.4px"></div>
<div class="pt" style="top:818.20px;height:37.4px"></div>
<div class="x" style="left:76.85px;top:831.00px;font-size:17.4px;line-height:17.4px;letter-spacing:1.171px;color:#fff;-webkit-text-stroke:0.9px #fff;">16</div>
<div class="x" style="left:111.38px;top:832.00px;font-size:14.6px;line-height:14.6px;letter-spacing:0.900px;color:#1f1760;-webkit-text-stroke:0.25px #1f1760;transform:scaleX(0.8766);transform-origin:0 0;">TSUNAMI QUEENS FC</div>
<div class="x" style="left:481.55px;top:833.00px;font-size:13.6px;line-height:13.6px;letter-spacing:1.100px;color:#1f1760;-webkit-text-stroke:0.25px #1f1760;">29</div>
<div class="x" style="left:519.35px;top:833.00px;font-size:13.6px;line-height:13.6px;letter-spacing:1.100px;color:#1f1760;-webkit-text-stroke:0.25px #1f1760;">2</div>
<div class="x" style="left:554.52px;top:833.00px;font-size:13.6px;line-height:13.6px;letter-spacing:1.100px;color:#1f1760;-webkit-text-stroke:0.25px #1f1760;">4</div>
<div class="x" style="left:584.85px;top:833.00px;font-size:13.6px;line-height:13.6px;letter-spacing:1.100px;color:#1f1760;-webkit-text-stroke:0.25px #1f1760;">23</div>
<div class="x" style="left:619.77px;top:833.00px;font-size:13.6px;line-height:13.6px;letter-spacing:1.100px;color:#1f1760;-webkit-text-stroke:0.25px #1f1760;">15</div>
<div class="x" style="left:657.54px;top:833.00px;font-size:13.6px;line-height:13.6px;letter-spacing:1.100px;color:#1f1760;-webkit-text-stroke:0.25px #1f1760;">72</div>
<div class="x" style="left:691.09px;top:833.00px;font-size:13.6px;line-height:13.6px;letter-spacing:0.600px;color:#1f1760;-webkit-text-stroke:0.25px #1f1760;">-57</div>
<div class="x" style="left:739.27px;top:833.00px;font-size:14.0px;line-height:14.0px;letter-spacing:1.200px;color:#fff;-webkit-text-stroke:0.3px #fff;">10</div>
</body></html>
